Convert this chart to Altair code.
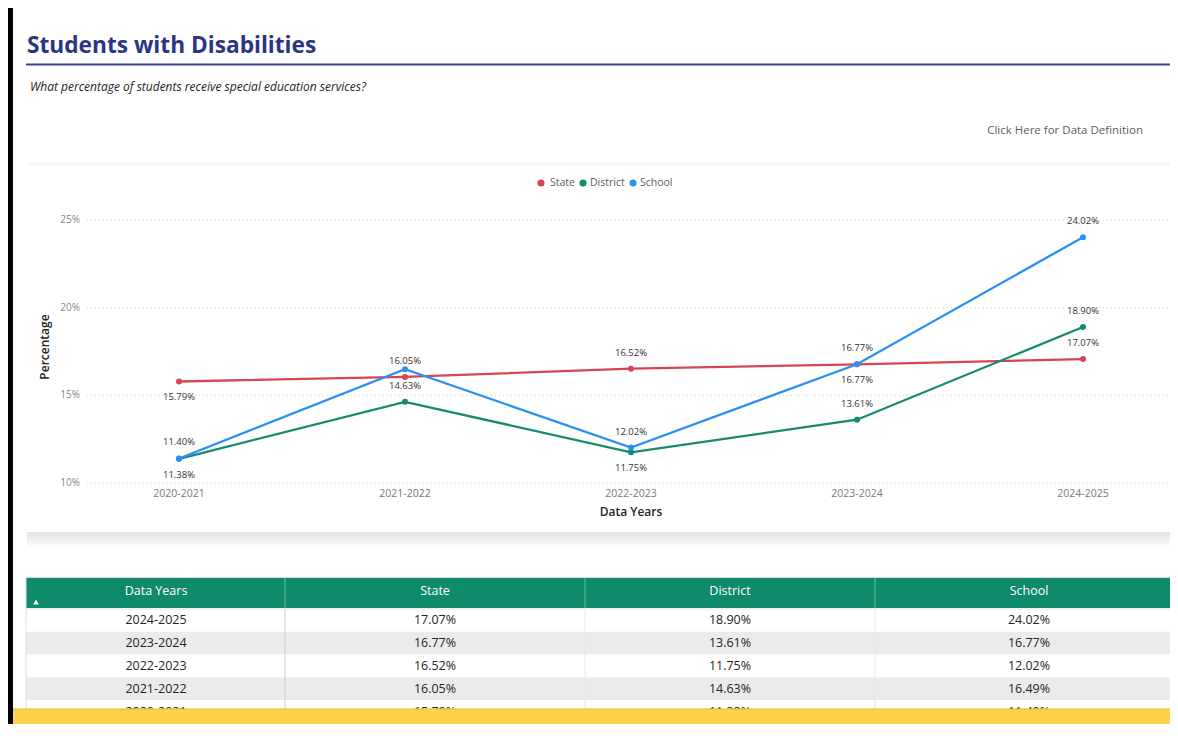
import altair as alt
import pandas as pd

# ---------------- data ----------------
years = ["2020-2021", "2021-2022", "2022-2023", "2023-2024", "2024-2025"]
series = ["State", "District", "School"]
state = [15.79, 16.05, 16.52, 16.77, 17.07]
district = [11.38, 14.63, 11.75, 13.61, 18.90]
school = [11.40, 16.49, 12.02, 16.77, 24.02]
y_ticks = [10, 15, 20, 25]
# where each data label sits in the reference ("" = label hidden)
state_lbl = ["below", "above", "above", "above", "above"]
district_lbl = ["below", "above", "below", "above", "above"]
school_lbl = ["above", "", "above", "below", "above"]

title_text = "Students with Disabilities"
subtitle_text = "What percentage of students receive special education services?"
link_text = "Click Here for Data Definition"
x_title = "Data Years"
y_title = "Percentage"
table_cols = ["Data Years", "State", "District", "School"]

# ---------------- style / layout ----------------
FONT = "Open Sans"
colors = {"State": "#D64550", "District": "#148B6B", "School": "#2A90F3"}
W, H = 1162, 716
TEAL = "#0F8A6D"

values = {"State": state, "District": district, "School": school}
places = {"State": state_lbl, "District": district_lbl, "School": school_lbl}
rows = []
for s in series:
    for i, yr in enumerate(years):
        rows.append({"Year": yr, "Series": s, "Value": values[s][i],
                     "Label": f"{values[s][i]:.2f}%", "Place": places[s][i]})
long_df = pd.DataFrame(rows)

one = alt.Data(values=[{}])

xscale = alt.Scale(type="point", domain=years, range=[171, 1075], padding=0)
yscale = alt.Scale(domain=[10, 25], range=[475, 212], zero=False, nice=False)
X = alt.X("Year:N", scale=xscale, axis=None)
Y = alt.Y("Value:Q", scale=yscale, axis=None)


def txt(text, x, y, size, color="#252423", align="left", baseline="middle",
        weight="normal", style="normal", angle=0):
    return alt.Chart(one).mark_text(
        align=align, baseline=baseline, font=FONT, fontSize=size, color=color,
        fontWeight=weight, fontStyle=style, angle=angle
    ).encode(x=alt.value(x), y=alt.value(y), text=alt.value(text))


def box(x, x2, y, y2, color):
    return alt.Chart(one).mark_rect(color=color).encode(
        x=alt.value(x), x2=alt.value(x2), y=alt.value(y), y2=alt.value(y2))


def vline(x, y, y2, color, w=1):
    return alt.Chart(one).mark_rule(color=color, strokeWidth=w).encode(
        x=alt.value(x), y=alt.value(y), y2=alt.value(y2))


def hline(y, x, x2, color, w=1, dash=None):
    kw = {"strokeDash": dash} if dash else {}
    return alt.Chart(one).mark_rule(color=color, strokeWidth=w, **kw).encode(
        y=alt.value(y), x=alt.value(x), x2=alt.value(x2))


layers = []

# frame
layers.append(box(0, 5, 0, H, "#000000"))

# header
layers.append(txt(title_text, 19, 45, 22.7, color="#2B3582", baseline="alphabetic", weight="bold"))
layers.append(hline(56.5, 18, W, "#3A4690", w=2))
layers.append(txt(subtitle_text, 22, 79, 12, style="italic"))
layers.append(txt(link_text, 1135, 123, 11.5, color="#605E5C", align="right"))

# card edges / shadow
layers.append(hline(156, 19, W, "#f7f7f7", w=3))
shadow = alt.Gradient(gradient="linear", x1=0, x2=0, y1=0, y2=1,
                      stops=[alt.GradientStop(color="#e3e3e3", offset=0),
                             alt.GradientStop(color="#ffffff", offset=1)])
layers.append(alt.Chart(one).mark_rect(color=shadow).encode(
    x=alt.value(19), x2=alt.value(W), y=alt.value(524), y2=alt.value(540)))

# legend
leg_dot_x = [533, 575, 625]
leg_txt_x = [542, 582, 632]
for i, s in enumerate(series):
    layers.append(alt.Chart(one).mark_circle(size=50, opacity=1, color=colors[s]).encode(
        x=alt.value(leg_dot_x[i]), y=alt.value(175)))
    layers.append(txt(s, leg_txt_x[i], 175, 10.5, color="#605E5C"))

# grid + y labels
tick_df = pd.DataFrame({"Value": y_ticks, "lab": [f"{t}%" for t in y_ticks]})
layers.append(alt.Chart(tick_df).mark_rule(color="#d4d4d4", strokeDash=[1, 3], strokeWidth=1).encode(
    y=Y, x=alt.value(79), x2=alt.value(W)))
layers.append(alt.Chart(tick_df).mark_text(align="right", baseline="middle", font=FONT,
                                            fontSize=10, color="#858585").encode(
    y=Y, x=alt.value(72), text="lab:N"))

# x labels
year_df = pd.DataFrame({"Year": years})
layers.append(alt.Chart(year_df).mark_text(baseline="middle", font=FONT, fontSize=10.5,
                                            color="#7a7a7a").encode(
    x=X, y=alt.value(486), text="Year:N"))

# axis titles
layers.append(txt(x_title, 623, 504, 12, align="center", weight=600))
layers.append(txt(y_title, 37, 339, 12, align="center", weight=600, angle=270))

# lines and points
for s in series:
    sdf = long_df[long_df.Series == s]
    layers.append(alt.Chart(sdf).mark_line(color=colors[s], strokeWidth=2.3).encode(x=X, y=Y))
    layers.append(alt.Chart(sdf).mark_circle(color=colors[s], size=36, opacity=1).encode(x=X, y=Y))

# data labels
for place, dy in (("above", -16), ("below", 16)):
    layers.append(alt.Chart(long_df).transform_filter(alt.datum.Place == place).mark_text(
        dy=dy, baseline="middle", font=FONT, fontSize=9.5, color="#333333").encode(
        x=X, y=Y, text="Label:N"))

# ---------------- table ----------------
years_desc = years[::-1]
tbl = pd.DataFrame({
    "Year": years_desc,
    "State": [f"{v:.2f}%" for v in state[::-1]],
    "District": [f"{v:.2f}%" for v in district[::-1]],
    "School": [f"{v:.2f}%" for v in school[::-1]],
    "shade": ["w" if i % 2 == 0 else "g" for i in range(len(years_desc))],
})
TY = alt.Y("Year:N", sort=years_desc,
           scale=alt.Scale(type="band", domain=years_desc, range=[601, 715],
                           paddingInner=0, paddingOuter=0), axis=None)
layers.append(alt.Chart(tbl).mark_rect().encode(
    y=TY, x=alt.value(18), x2=alt.value(W),
    color=alt.Color("shade:N", scale=alt.Scale(domain=["w", "g"], range=["#ffffff", "#ebebeb"]),
                    legend=None)))

col_cx = [148, 427, 722, 1021]
dividers = [277, 577, 867]
layers.append(hline(569.5, 18, W, "#cfe3dd", w=1))
layers.append(box(18, W, 570, 600, TEAL))
layers.append(hline(601, 18, W, "#e3e3e3", w=1))
for i, dx in enumerate(dividers):
    layers.append(vline(dx, 570, 600, "#63b8a2"))
    layers.append(vline(dx, 601, H, "#cdcdcd" if i == 0 else "#e8e8e8"))
layers.append(vline(18, 570, H, "#e0e0e0"))
for i, c in enumerate(table_cols):
    layers.append(txt(c, col_cx[i], 583, 12.5, color="#ffffff", align="center"))
layers.append(alt.Chart(one).mark_point(shape="triangle-up", filled=True, color="#ffffff",
                                        size=32, opacity=1).encode(
    x=alt.value(28), y=alt.value(594)))

tfields = ["Year", "State", "District", "School"]
for i, f in enumerate(tfields):
    layers.append(alt.Chart(tbl).mark_text(align="center", baseline="middle", font=FONT,
                                           fontSize=12.5, color="#252423").encode(
        y=TY, x=alt.value(col_cx[i]), text=f"{f}:N"))

# bottom yellow band
layers.append(box(5, W, 701, H, "#FFD147"))
layers.append(hline(701, 5, W, "#E3B938", w=1))

chart = alt.layer(*layers).resolve_scale(
    x="independent", y="independent", color="independent"
).properties(
    width=W, height=H, padding=0, autosize=alt.AutoSizeParams(type="none"),
    background="#ffffff"
).configure_view(stroke=None)

chart.save("out.html", embed_options={"renderer": "svg", "actions": False})
